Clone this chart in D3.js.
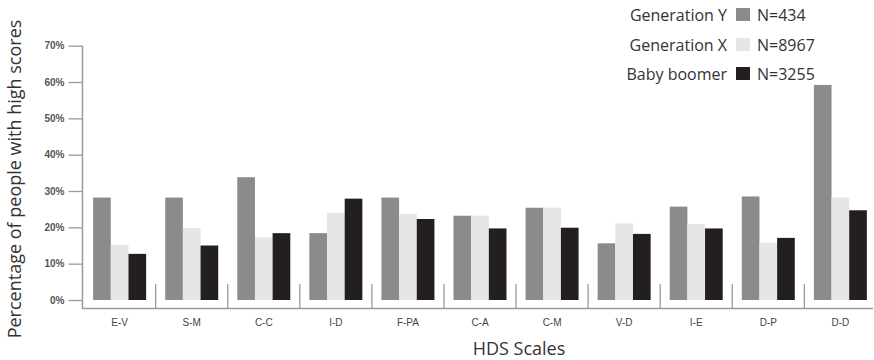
<!DOCTYPE html>
<html><head><meta charset="utf-8">
<script src="https://cdn.jsdelivr.net/npm/d3@7"></script>
<style>body{margin:0;background:#fff}svg{display:block}</style>
</head><body>
<svg id="chart" width="874" height="360"></svg>
<script>
const categories = ["E-V","S-M","C-C","I-D","F-PA","C-A","C-M","V-D","I-E","D-P","D-D"];
const seriesNames = ["Generation Y","Generation X","Baby boomer"];
const seriesN = ["N=434","N=8967","N=3255"];
const genY = [28.2,28.2,33.8,18.4,28.2,23.2,25.4,15.6,25.7,28.5,59.2];
const genX = [15.2,19.8,17.2,24.0,23.7,23.2,25.4,21.1,20.9,15.8,28.2];
const boomer = [12.7,15.0,18.4,27.9,22.3,19.7,19.9,18.2,19.7,17.1,24.7];
const yTicks = [0,10,20,30,40,50,60,70];
const colors = ["#8b8b89","#e6e6e4","#231f20"];

const series = [genY, genX, boomer];
const svg = d3.select("#chart");
const fontUI = "'Open Sans', 'Noto Sans', sans-serif";
const fontTick = "'Liberation Sans', Arial, sans-serif";

const x0 = d3.scaleBand().domain(categories).range([83.6, 876.4]).paddingInner(0).paddingOuter(0);
const x1 = d3.scaleBand().domain(d3.range(3)).range([0, x0.bandwidth()]).paddingInner(0).paddingOuter(0.54);
const y = d3.scaleLinear().domain([0, 70]).range([300, 45.7]);

// bars
const g = svg.append("g");
categories.forEach((c, i) => {
  series.forEach((s, j) => {
    g.append("rect")
      .attr("x", x0(c) + x1(j))
      .attr("y", y(s[i]))
      .attr("width", x1.bandwidth())
      .attr("height", y(0) - y(s[i]))
      .attr("fill", colors[j]);
  });
});

// y axis
const axisColor = "#9a9a9a";
const yAxis = d3.axisLeft(y).tickValues(yTicks).tickFormat(d => d + "%").tickSize(14).tickSizeOuter(0).tickPadding(4);
const ya = svg.append("g").attr("transform", "translate(82.5,0)").call(yAxis);
ya.select(".domain").remove();
ya.selectAll(".tick line").attr("stroke", axisColor).attr("stroke-width", 1.3);
ya.selectAll(".tick text").attr("fill", "#555").style("font-family", fontTick).style("font-size", "10px").style("font-weight", "bold");
svg.append("line").attr("x1", 82.5).attr("x2", 82.5).attr("y1", y(70)).attr("y2", 309)
  .attr("stroke", axisColor).attr("stroke-width", 1.5);

// x axis
svg.append("line").attr("x1", 82).attr("x2", 873).attr("y1", 308.5).attr("y2", 308.5)
  .attr("stroke", axisColor).attr("stroke-width", 1.5);
categories.slice(1).forEach(c => {
  svg.append("line").attr("x1", x0(c)).attr("x2", x0(c)).attr("y1", 284).attr("y2", 308.5)
    .attr("stroke", axisColor).attr("stroke-width", 1.3);
});
const xAxis = d3.axisBottom(x0).tickSize(0).tickPadding(0);
const xa = svg.append("g").attr("transform", "translate(0,319)").call(xAxis);
xa.select(".domain").remove();
xa.selectAll(".tick text").attr("fill", "#444").style("font-family", fontTick).style("font-size", "10px").attr("dy", "0.71em");

// axis titles
svg.append("text").attr("x", 519).attr("y", 355).attr("text-anchor", "middle")
  .style("font-family", fontUI).style("font-size", "18px").attr("fill", "#333").text("HDS Scales");
svg.append("text").attr("transform", "translate(21,179) rotate(-90)").attr("text-anchor", "middle")
  .style("font-family", fontUI).style("font-size", "18px").attr("fill", "#333")
  .text("Percentage of people with high scores");

// legend
const baselines = [21, 51, 80];
seriesNames.forEach((n, j) => {
  const by = baselines[j];
  svg.append("text").attr("x", 727).attr("y", by).attr("text-anchor", "end")
    .style("font-family", fontUI).style("font-size", "16px").attr("fill", "#333").text(n);
  svg.append("rect").attr("x", 736).attr("y", by - 13).attr("width", 14).attr("height", 13).attr("fill", colors[j]);
  svg.append("text").attr("x", 757).attr("y", by)
    .style("font-family", fontUI).style("font-size", "16px").attr("fill", "#333").text(seriesN[j]);
});
</script>
</body></html>
